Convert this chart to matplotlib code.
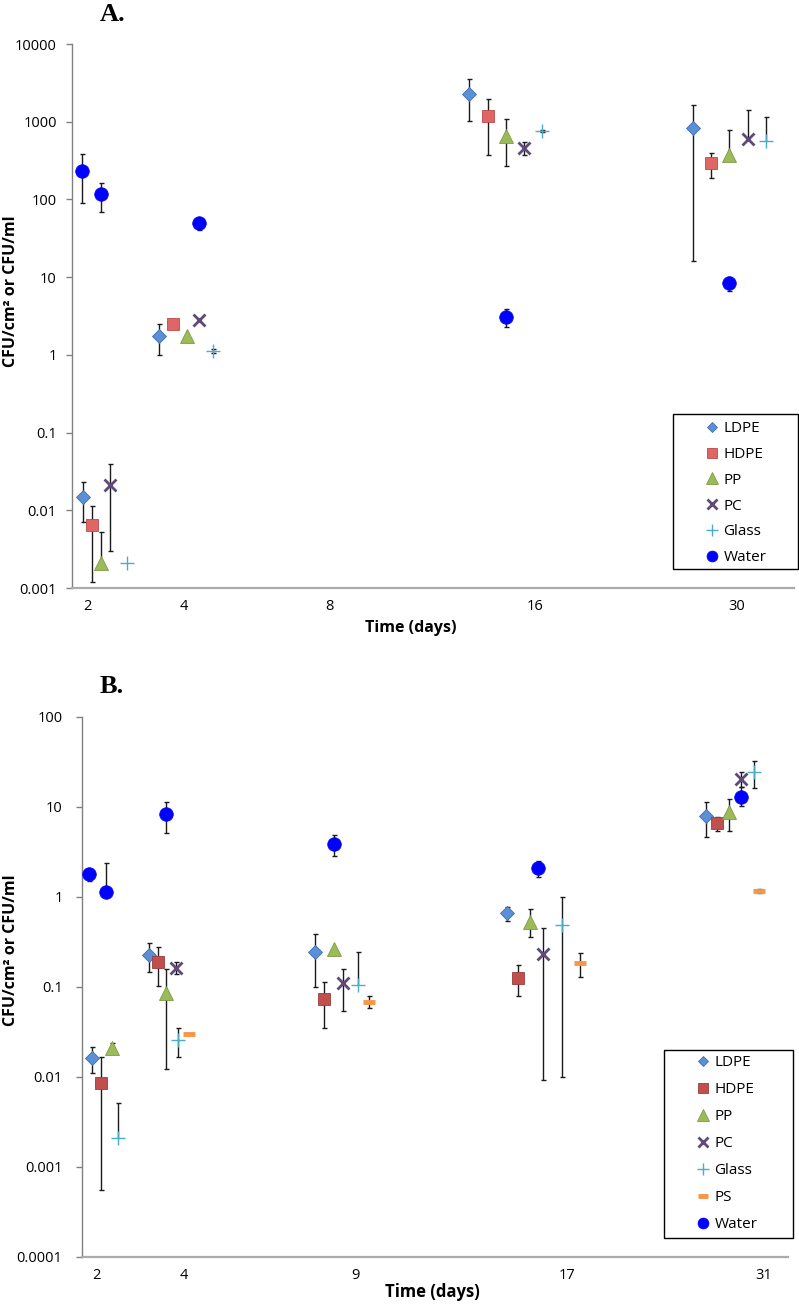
import matplotlib.pyplot as plt
from matplotlib.lines import Line2D
from matplotlib.patches import Rectangle
import numpy as np

plt.rcParams['font.family'] = ['Open Sans', 'DejaVu Sans']

# ---- panel A: x is the plotting position along the axis (0-100) ----
a_tick_pos = [2.2, 15.5, 35.7, 64.1, 92.1]
a_tick_labels = ['2', '4', '8', '16', '30']
a_yticks = [0.001, 0.01, 0.1, 1, 10, 100, 1000, 10000]
a_ytick_labels = ['0.001', '0.01', '0.1', '1', '10', '100', '1000', '10000']

a_ldpe_pos = [1.5, 12.0, 55.0, 86.0]
a_ldpe = [0.015, 1.76, 2300, 840]
a_ldpe_lo = [0.007, 1.0, 1030, 16]
a_ldpe_hi = [0.023, 2.5, 3570, 1650]

a_hdpe_pos = [2.8, 14.0, 57.6, 88.5]
a_hdpe = [0.0064, 2.5, 1200, 296]
a_hdpe_lo = [0.0012, 2.5, 376, 190]
a_hdpe_hi = [0.0115, 2.5, 1980, 395]

a_pp_pos = [4.0, 15.9, 60.1, 91.0]
a_pp = [0.0021, 1.76, 660, 376]
a_pp_lo = [0.0021, 1.76, 270, 376]
a_pp_hi = [0.0052, 1.76, 1090, 790]

a_pc_pos = [5.3, 17.6, 62.6, 93.6]
a_pc = [0.021, 2.8, 463, 605]
a_pc_lo = [0.003, 2.8, 376, 605]
a_pc_hi = [0.039, 2.8, 555, 1430]

a_glass_pos = [7.6, 19.5, 65.1, 96.1]
a_glass = [0.0021, 1.12, 765, 570]
a_glass_lo = [0.0021, 1.05, 740, 570]
a_glass_hi = [0.0021, 1.2, 790, 1160]

a_water_pos = [1.4, 4.0, 17.6, 60.1, 91.0]
a_water = [230, 116, 50, 3.05, 8.4]
a_water_lo = [91, 68, 41, 2.3, 6.6]
a_water_hi = [380, 165, 50, 3.9, 10]

# ---- panel B ----
b_tick_pos = [2.0, 14.4, 38.8, 68.7, 96.5]
b_tick_labels = ['2', '4', '9', '17', '31']
b_yticks = [0.0001, 0.001, 0.01, 0.1, 1, 10, 100]
b_ytick_labels = ['0.0001', '0.001', '0.01', '0.1', '1', '10', '100']

b_ldpe_pos = [1.4, 9.5, 33.0, 60.2, 88.4]
b_ldpe = [0.0163, 0.227, 0.245, 0.66, 7.9]
b_ldpe_lo = [0.011, 0.147, 0.1, 0.54, 4.6]
b_ldpe_hi = [0.0215, 0.31, 0.39, 0.77, 11.4]

b_hdpe_pos = [2.7, 10.8, 34.3, 61.8, 89.9]
b_hdpe = [0.0086, 0.19, 0.074, 0.126, 6.6]
b_hdpe_lo = [0.00055, 0.103, 0.035, 0.079, 5.4]
b_hdpe_hi = [0.0167, 0.28, 0.114, 0.176, 7.7]

b_pp_pos = [4.2, 11.9, 35.7, 63.5, 91.6]
b_pp = [0.021, 0.086, 0.265, 0.53, 8.8]
b_pp_lo = [0.021, 0.0123, 0.265, 0.36, 5.4]
b_pp_hi = [0.024, 0.16, 0.265, 0.74, 12.3]

b_pc_pos = [13.3, 37.0, 65.3, 93.3]
b_pc = [0.162, 0.11, 0.23, 20.5]
b_pc_lo = [0.14, 0.054, 0.0093, 16.7]
b_pc_hi = [0.19, 0.158, 0.45, 24.5]

b_glass_pos = [5.1, 13.6, 39.1, 68.0, 95.2]
b_glass = [0.0021, 0.026, 0.105, 0.49, 24.5]
b_glass_lo = [0.0021, 0.0167, 0.105, 0.01, 16.3]
b_glass_hi = [0.0052, 0.035, 0.245, 1.0, 32.4]

b_ps_pos = [15.2, 40.7, 70.5, 95.9]
b_ps = [0.030, 0.068, 0.185, 1.17]
b_ps_lo = [0.030, 0.059, 0.13, 1.12]
b_ps_hi = [0.030, 0.079, 0.24, 1.22]

b_water_pos = [1.0, 3.4, 11.9, 35.7, 64.6, 93.3]
b_water = [1.8, 1.13, 8.4, 3.9, 2.1, 12.9]
b_water_lo = [1.5, 1.13, 5.1, 2.85, 1.67, 10.2]
b_water_hi = [1.95, 2.4, 11.4, 4.9, 2.5, 16.7]

# marker styles
styles = {
    'LDPE': dict(marker='D', ms=7.0, mfc='#5b8fd6', mec='#3f6fae', mew=0.6),
    'HDPE': dict(marker='s', ms=9.2, mfc='#e06666', mec='#b84a48', mew=0.6),
    'PP': dict(marker='^', ms=10, mfc='#9bbb59', mec='#7f9a47', mew=0.6),
    'PC': dict(marker='x', ms=9, mfc='#5f497a', mec='#5f497a', mew=2.0),
    'Glass': dict(marker='+', ms=10.5, mfc='#4bacc6', mec='#4bacc6', mew=1.0),
    'PS': dict(marker='_', ms=9, mfc='#f79646', mec='#f79646', mew=3.5),
    'Water': dict(marker='o', ms=9.8, mfc='#0000ff', mec='#0000ff', mew=0.5),
}
hdpe_b = dict(styles['HDPE'], mfc='#c0504d', mec='#9c3b39')


def draw_series(ax, pos, val, lo, hi, style):
    # error bars drawn only where a bound differs from the value
    for x, v, l, h in zip(pos, val, lo, hi):
        if h > v:
            ax.vlines(x, v, h, color='#1a1a1a', lw=1.0, zorder=2)
            ax.plot(x, h, marker='_', ms=3.6, mew=1.0, color='#1a1a1a', zorder=2)
        if l < v:
            ax.vlines(x, l, v, color='#1a1a1a', lw=1.0, zorder=2)
            ax.plot(x, l, marker='_', ms=3.6, mew=1.0, color='#1a1a1a', zorder=2)
    ax.plot(pos, val, ls='none', zorder=3, **style)


def style_axes(ax, yticks, ylabels, tick_pos, tick_labels, ylo, yhi, ypad):
    ax.set_yscale('log')
    ax.set_ylim(ylo, yhi)
    ax.set_xlim(0, 100)
    ax.set_yticks(yticks)
    ax.set_yticklabels(ylabels)
    ax.yaxis.set_minor_locator(plt.NullLocator())
    ax.set_xticks(tick_pos)
    ax.set_xticklabels(tick_labels)
    ax.tick_params(axis='y', direction='out', length=4, width=1, color='#808080',
                   labelsize=10.5, pad=ypad)
    ax.tick_params(axis='x', length=0, labelsize=10.5, pad=8)
    for s in ['top', 'right']:
        ax.spines[s].set_visible(False)
    ax.spines['left'].set_color('#808080')
    ax.spines['left'].set_linewidth(1.0)
    ax.spines['bottom'].set_color('#ababab')
    ax.spines['bottom'].set_linewidth(1.6)


fig = plt.figure(figsize=(7.99, 13.04), dpi=100)
W, H = 799.0, 1304.0

# ---------- panel A ----------
axA = fig.add_axes([72 / W, 1 - 588 / H, 722 / W, 544 / H])
draw_series(axA, a_ldpe_pos, a_ldpe, a_ldpe_lo, a_ldpe_hi, styles['LDPE'])
draw_series(axA, a_hdpe_pos, a_hdpe, a_hdpe_lo, a_hdpe_hi, styles['HDPE'])
draw_series(axA, a_pp_pos, a_pp, a_pp_lo, a_pp_hi, styles['PP'])
draw_series(axA, a_pc_pos, a_pc, a_pc_lo, a_pc_hi, styles['PC'])
draw_series(axA, a_glass_pos, a_glass, a_glass_lo, a_glass_hi, styles['Glass'])
draw_series(axA, a_water_pos, a_water, a_water_lo, a_water_hi, styles['Water'])
style_axes(axA, a_yticks, a_ytick_labels, a_tick_pos, a_tick_labels, 0.001, 10000, 7)
axA.set_xlabel('Time (days)', fontsize=11.5, fontweight='bold')
axA.xaxis.set_label_coords((411 - 72) / 722, -(620 - 588) / 544)
axA.set_ylabel('CFU/cm² or CFU/ml', fontsize=11.5, fontweight='bold')
axA.yaxis.set_label_coords((19 - 72) / 722, (588 - 291) / 544)

# ---------- panel B ----------
axB = fig.add_axes([82 / W, 1 - 1257 / H, 706 / W, 540 / H])
draw_series(axB, b_ldpe_pos, b_ldpe, b_ldpe_lo, b_ldpe_hi, styles['LDPE'])
draw_series(axB, b_hdpe_pos, b_hdpe, b_hdpe_lo, b_hdpe_hi, hdpe_b)
draw_series(axB, b_pp_pos, b_pp, b_pp_lo, b_pp_hi, styles['PP'])
draw_series(axB, b_pc_pos, b_pc, b_pc_lo, b_pc_hi, styles['PC'])
draw_series(axB, b_glass_pos, b_glass, b_glass_lo, b_glass_hi, styles['Glass'])
draw_series(axB, b_ps_pos, b_ps, b_ps_lo, b_ps_hi, styles['PS'])
draw_series(axB, b_water_pos, b_water, b_water_lo, b_water_hi, styles['Water'])
style_axes(axB, b_yticks, b_ytick_labels, b_tick_pos, b_tick_labels, 0.0001, 100, 10)
axB.set_xlabel('Time (days)', fontsize=12, fontweight='bold')
axB.xaxis.set_label_coords((432 - 82) / 706, -(1283 - 1257) / 540)
axB.set_ylabel('CFU/cm² or CFU/ml', fontsize=11.5, fontweight='bold')
axB.yaxis.set_label_coords((19 - 82) / 706, (1257 - 950) / 540)

# panel titles
fig.text(100 / W, 1 - 21 / H, 'A.', family='Liberation Serif', fontsize=19,
         fontweight='bold', va='baseline', ha='left')
fig.text(100 / W, 1 - 693 / H, 'B.', family='Liberation Serif', fontsize=19,
         fontweight='bold', va='baseline', ha='left')


# legends: frameless legend plus a drawn box
def add_legend(names, style_list, x_marker, y_top, box, spacing):
    handles = [Line2D([], [], ls='none', **st) for st in style_list]
    fs_px = 11 * 100 / 72
    leg = fig.legend(handles, names, loc='upper left', frameon=False, fontsize=11,
                     bbox_to_anchor=((x_marker - 0.5 * fs_px) / W, 1 - y_top / H),
                     bbox_transform=fig.transFigure, borderpad=0, borderaxespad=0,
                     handlelength=1.0, handletextpad=0.25, labelspacing=spacing,
                     numpoints=1, markerscale=0.8)
    x0, y0, x1, y1 = box
    fig.add_artist(Rectangle((x0 / W, 1 - y1 / H), (x1 - x0) / W, (y1 - y0) / H,
                             transform=fig.transFigure, fill=False,
                             edgecolor='black', lw=1.0))
    return leg


a_names = ['LDPE', 'HDPE', 'PP', 'PC', 'Glass', 'Water']
add_legend(a_names, [styles[n] for n in a_names], 712, 421, (673, 414, 798, 569), 0.71)

b_names = ['LDPE', 'HDPE', 'PP', 'PC', 'Glass', 'PS', 'Water']
b_styles = [styles[n] if n != 'HDPE' else hdpe_b for n in b_names]
add_legend(b_names, b_styles, 703, 1055, (664, 1050, 793, 1238), 0.79)

fig.savefig('out.png', dpi=100)
